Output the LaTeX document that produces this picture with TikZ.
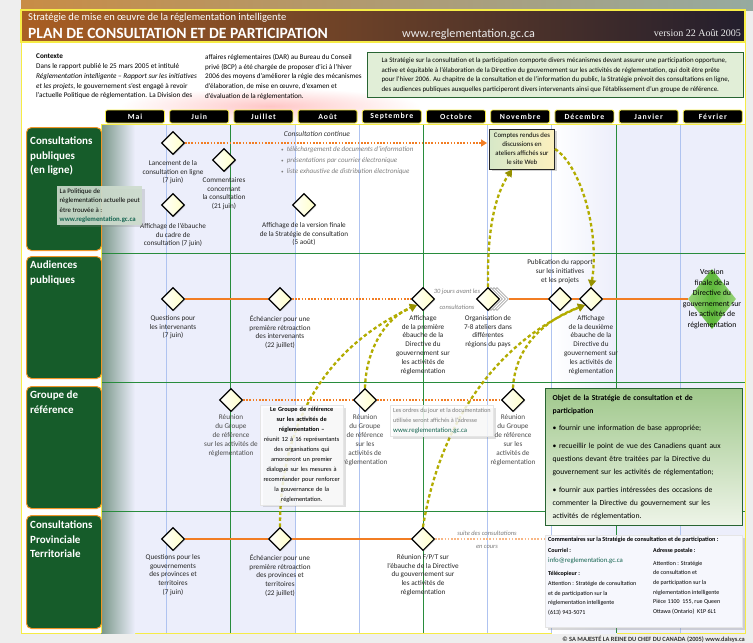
\documentclass[tikz,border=0pt]{standalone}
\usepackage{fontspec}
\setmainfont{Carlito}
\newfontfamily\versionfont{Liberation Serif}
\newfontfamily\tabfont{Carlito}[LetterSpace=12]
\usepackage{tikz}
\usetikzlibrary{positioning, shapes.geometric, shadows, arrows.meta}

\definecolor{pageGrey}{RGB}{238,238,238}
\definecolor{frameYellow}{RGB}{246,236,70}
\definecolor{headLeft}{RGB}{170,95,35}
\definecolor{headMid}{RGB}{70,45,55}
\definecolor{headRight}{RGB}{35,30,45}
\definecolor{stripLeft}{RGB}{200,140,70}
\definecolor{stripRight}{RGB}{150,170,160}
\definecolor{laneGreen}{RGB}{22,92,42}
\definecolor{laneOrange}{RGB}{240,150,40}
\definecolor{laneFade}{RGB}{120,150,135}
\definecolor{gridGreen}{RGB}{40,140,60}
\definecolor{gridBlue}{RGB}{175,195,240}
\definecolor{lavender}{RGB}{236,238,251}
\definecolor{planOrange}{RGB}{242,125,35}
\definecolor{linkOlive}{RGB}{178,172,0}
\definecolor{tipOlive}{RGB}{150,145,0}
\definecolor{linkTeal}{RGB}{20,100,80}
\definecolor{noteGrey}{RGB}{125,125,125}
\definecolor{introGreen}{RGB}{225,238,215}
\definecolor{boxGreen}{RGB}{40,100,50}
\definecolor{objTop}{RGB}{160,200,140}
\definecolor{objBottom}{RGB}{238,244,232}
\definecolor{webLeft}{RGB}{215,232,200}
\definecolor{webRight}{RGB}{252,240,190}
\definecolor{noteFill}{RGB}{205,220,205}
\definecolor{finalIn}{RGB}{95,185,60}
\definecolor{finalOut}{RGB}{150,210,120}
\definecolor{commFill}{RGB}{246,247,253}

\newcommand\fsz[2]{\fontsize{#1}{#2}\selectfont}

\tikzset{
    x=1pt, y=-1pt, % one unit per pixel of the original, y grows downwards
    >={Triangle[length=7pt,width=8pt,color=tipOlive]}, % heads of the olive links
    milestone/.style={diamond, draw=black, line width=1.1pt, left color=white, right color=yellow!22,
        minimum width=23pt, minimum height=23pt, inner sep=0pt,
        drop shadow={opacity=0.3, shadow xshift=1pt, shadow yshift=-1pt}}, % the jalons
    ghost/.style={diamond, draw=black!35, line width=0.8pt, fill=white, minimum width=23pt, minimum height=23pt, inner sep=0pt},
    finalstone/.style={diamond, left color=finalOut, right color=finalOut, middle color=finalIn, minimum width=48pt, minimum height=60pt, inner sep=0pt},
    mlabel/.style={font=\fsz{7.2}{8.8}, align=center, inner sep=0pt, text=black!85},
    glabel/.style={mlabel, font=\fsz{7.2}{9}, text=black!70},
    done/.style={draw=planOrange, line width=1.6pt}, % activite realisee
    pending/.style={draw=planOrange, line width=1.6pt, dash pattern=on 1.6pt off 1.6pt}, % activite continue
    olivelink/.style={->, draw=linkOlive, line width=2.3pt, dash pattern=on 3.5pt off 2.5pt},
    monthtab/.style={fill=black, draw=frameYellow, line width=0.8pt, rounded corners=2pt, text=white,
        font=\tabfont\bfseries\fsz{7.8}{8}, minimum width=59pt, minimum height=13pt, inner sep=0pt},
    lanebox/.style={fill=laneGreen, draw=laneOrange, line width=1pt, rounded corners=5pt, anchor=north west, inner sep=0pt},
    lanetitle/.style={text=white, font=\bfseries\fsz{11}{14.5}, align=left, anchor=north west, inner sep=0pt},
    infobox/.style={fill=white, fill opacity=0.8, text opacity=1, draw=black!10, drop shadow={opacity=0.25}},
    webbox/.style={draw=black!85, line width=1pt, left color=webLeft, right color=webRight, align=center,
        font=\fsz{6.8}{9}, minimum width=65pt, minimum height=40pt, inner sep=1pt, drop shadow={opacity=0.35}},
    aside/.style={font=\itshape\fsz{6.5}{8}, text=noteGrey, inner sep=0pt},
}

\begin{document}
\begin{tikzpicture}
\useasboundingbox (0,0) rectangle (753,643);
% fond, bandeau et cadre
\fill[pageGrey] (0,0) rectangle (753,643);
\shade[left color=stripLeft, right color=stripRight] (21,0) rectangle (753,10);
\fill[white] (21,42) rectangle (745,633);
\shade[inner color=red!22, outer color=white] (270,106) ellipse (150 and 18);
\shade[left color=headLeft, middle color=headMid, right color=headRight] (21,10) rectangle (745,42);
\draw[frameYellow, line width=1.2pt] (21,10) rectangle (745,42);
\draw[frameYellow, line width=1pt] (21,42) -- (21,633) -- (745,633) -- (745,42);

\node[anchor=base west, text=white, font=\fsz{10.5}{12}, inner sep=0pt] (subtitle) at (28,20) {Stratégie de mise en œuvre de la réglementation intelligente};
\node[anchor=base west, text=white, font=\bfseries\fsz{15.6}{18}, inner sep=0pt] (title) at (28,38) {PLAN DE CONSULTATION ET DE PARTICIPATION};
\node[anchor=base west, text=white!85!gray, font=\fsz{12.2}{14}, inner sep=0pt] (site) at (402,37) {www.reglementation.gc.ca};
\node[anchor=base east, text=white!85!gray, font=\versionfont\fsz{10}{12}, inner sep=0pt] (version) at (741,36) {version 22 Août 2005};

% contexte
\node[anchor=north west, align=left, font=\fsz{7.2}{9.7}, inner sep=0pt] (contexte) at (36,54)
    {\textbf{Contexte}\\Dans le rapport publié le 25 mars 2005 et intitulé\\\textit{Réglementation intelligente – Rapport sur les initiatives}\\\textit{et les projets}, le gouvernement s'est engagé à revoir\\l'actuelle Politique de réglementation. La Division des};
\node[anchor=north west, align=left, font=\fsz{7.1}{9.7}, inner sep=0pt] (contexte2) at (205,54)
    {affaires réglementaires (DAR) au Bureau du Conseil\\privé (BCP) a été chargée de proposer d'ici à l'hiver\\2006 des moyens d'améliorer la régie des mécanismes\\d'élaboration, de mise en œuvre, d'examen et\\d'évaluation de la réglementation.};
\node[draw=boxGreen, line width=1pt, fill=introGreen, anchor=north west, align=left, minimum width=376pt, minimum height=45pt,
    inner sep=2pt, font=\fsz{6.9}{9.6}] (intro) at (367,52)
    {La Stratégie sur la consultation et la participation comporte divers mécanismes devant assurer une participation opportune,\\active et équitable à l'élaboration de la Directive du gouvernement sur les activités de réglementation, qui doit être prête\\pour l'hiver 2006. Au chapitre de la consultation et de l'information du public, la Stratégie prévoit des consultations en ligne,\\des audiences publiques auxquelles participeront divers intervenants ainsi que l'établissement d'un groupe de référence.};

% couloirs et grille
\fill[lavender] (101,124) rectangle (296,633);
\shade[left color=white, right color=lavender] (552,124) rectangle (617,633);
\fill[lavender] (617,124) rectangle (745,633);
\foreach \ya/\yb in {124/253, 253/382, 382/511, 511/633}
    \shade[left color=laneFade, right color=lavender] (101,\ya) rectangle (135,\yb);
\foreach \k/\col in {1/gridBlue, 2/gridGreen, 3/gridBlue, 4/gridBlue, 5/gridGreen, 6/gridBlue, 7/gridBlue, 8/gridGreen, 9/gridBlue}
    \draw[\col, line width=0.9pt] ({102.5+64.2*\k},124) -- ({102.5+64.2*\k},633);
\foreach \y in {253,382,511}
    \draw[gridGreen, line width=1pt] (101,\y) -- (745,\y);
\draw[frameYellow, line width=1pt] (101,124) -- (745,124);
\draw[frameYellow, line width=0.8pt] (101,124) -- (101,633);

\node[lanebox, minimum width=75pt, minimum height=123pt] (lane1) at (26,127) {};
\node[lanetitle] (lane1txt) at (30,137) {Consultations\\publiques\\(en ligne)};
\node[lanebox, minimum width=75pt, minimum height=122pt] (lane2) at (26,256) {};
\node[lanetitle] (lane2txt) at (30,261) {Audiences\\publiques};
\node[lanebox, minimum width=75pt, minimum height=122pt] (lane3) at (26,386) {};
\node[lanetitle] (lane3txt) at (30,391) {Groupe de\\référence};
\node[lanebox, minimum width=75pt, minimum height=113pt] (lane4) at (26,515) {};
\node[lanetitle] (lane4txt) at (30,521) {Consultations\\Provinciale\\Territoriale};

\foreach \mois [count=\i from 0] in {Mai,Juin,Juillet,Août,Septembre,Octobre,Novembre,Décembre,Janvier,Février}
    \node[monthtab] (mois\i) at ({135+64.2*\i},116.5) {\mois};

% consultations publiques en ligne
\node[milestone] (lanc) at (173,143) {};
\node[milestone] (comm) at (224,160) {};
\node[milestone] (ebau) at (173,205) {};
\node[milestone] (vfin) at (304,205) {};
\node[mlabel, below=5pt of lanc] (lanclbl) {Lancement de la\\consultation en ligne\\(7 juin)};
\node[mlabel, below=5pt of comm] (commlbl) {Commentaires\\concernant\\la consultation\\(21 juin)};
\node[mlabel, below=6pt of ebau] (ebaulbl) {Affichage de l'ébauche\\du cadre de\\consultation (7 juin)};
\node[mlabel, below=5pt of vfin] (vfinlbl) {Affichage de la version finale\\de la Stratégie de consultation\\(5 août)};
\node[webbox] (cr) at (522,149) {Comptes rendus des\\discussions en\\ateliers affichés sur\\le site Web};
\draw[pending, -{Triangle[length=6pt,width=7pt]}, shorten >=2pt] (lanc) -- (lanc -| cr.west);
\node[font=\itshape\fsz{7.5}{9}, text=black!80, inner sep=0pt] (continue) at (317,134) {Consultation continue};
\node[aside, font=\itshape\fsz{7}{11}, align=left, anchor=north west] (moyens) at (281,146)
    {{\fsz{5}{5}•}\ \ téléchargement de documents d'information\\{\fsz{5}{5}•}\ \ présentations par courrier électronique\\{\fsz{5}{5}•}\ \ liste exhaustive de distribution électronique};

% audiences publiques
\node[milestone] (qint) at (173,299) {};
\node[milestone] (echint) at (280,299) {};
\node[milestone] (aff1) at (423,299) {};
\node[ghost] (org3) at (497,299) {};
\node[ghost] (org2) at (494,299) {};
\node[ghost] (org1) at (491,299) {};
\node[milestone] (org) at (488,299) {};
\node[milestone] (pub) at (560,299) {};
\node[milestone] (aff2) at (591,299) {};
\node[finalstone] (vf) at (712,299) {};
\node[font=\fsz{7.8}{10.5}, align=center, inner sep=0pt] (vflbl) at (712,299) {Version\\finale de la\\Directive du\\gouvernement sur\\les activités de\\réglementation};
\draw[done] (qint) -- (echint);
\draw[pending] (echint) -- (aff1);
\draw[done] (org3) -- (pub);
\draw[done] (pub) -- (aff2);
\draw[done] (aff2) -- (vf);
\node[aside] (trente) at (457,292) {30 jours avant les};
\node[aside] (trente2) at (457,307) {consultations};
\node[mlabel, below=4pt of qint] (qintlbl) {Questions pour\\les intervenants\\(7 juin)};
\node[mlabel, below=4pt of echint] (echintlbl) {Échéancier pour une\\première rétroaction\\des intervenants\\(22 juillet)};
\node[mlabel, below=4pt of aff1] (aff1lbl) {Affichage\\de la première\\ébauche de la\\Directive du\\gouvernement sur\\les activités de\\réglementation};
\node[mlabel, below=4pt of org] (orglbl) {Organisation de\\7-8 ateliers dans\\différentes\\régions du pays};
\node[mlabel, above=3pt of pub] (publbl) {Publication du rapport\\sur les initiatives\\et les projets};
\node[mlabel, below=4pt of aff2] (aff2lbl) {Affichage\\de la deuxième\\ébauche de la\\Directive du\\gouvernement sur\\les activités de\\réglementation};

% groupe de reference
\node[milestone] (reu1) at (231,400) {};
\node[milestone] (reu2) at (365,400) {};
\node[milestone] (reu3) at (513,400) {};
\draw[pending] (reu1) -- (reu2);
\draw[pending] (reu2) -- (reu3);
\node[glabel, below=2pt of reu1] (reu1lbl) {Réunion\\du Groupe\\de référence\\sur les activités de\\réglementation};
\node[glabel, below=2pt of reu2] (reu2lbl) {Réunion\\du Groupe\\de référence\\sur les\\activités de\\réglementation};
\node[glabel, below=2pt of reu3] (reu3lbl) {Réunion\\du Groupe\\de référence\\sur les\\activités de\\réglementation};

% consultations provinciales et territoriales
\node[milestone] (qpt) at (173,539) {};
\node[milestone] (echpt) at (280,539) {};
\node[milestone] (fpt) at (423,539) {};
\coordinate (suite) at (545,539);
\draw[done] (qpt) -- (echpt);
\draw[done] (echpt) -- (fpt);
\draw[pending, draw=planOrange!55] (fpt) -- (suite);
\node[aside] (suite1) at (487,533) {suite des consultations};
\node[aside] (suite2) at (487,547) {en cours};
\node[mlabel, below=3pt of qpt] (qptlbl) {Questions pour les\\gouvernements\\des provinces et\\territoires\\(7 juin)};
\node[mlabel, below=3pt of echpt] (echptlbl) {Échéancier pour une\\première rétroaction\\des provinces et\\territoires\\(22 juillet)};
\node[mlabel, below=3pt of fpt] (fptlbl) {Réunion F/P/T sur\\l'ébauche de la Directive\\du gouvernement sur\\les activités de\\réglementation};

% liens
\draw[olivelink] (echpt.north) .. controls (280,430) and (320,350) .. (aff1.south west);
\draw[olivelink] (reu2.north) .. controls (366,350) and (385,318) .. (aff1.south west);
\draw[olivelink] (fpt.north) .. controls (440,420) and (500,340) .. (aff2.south west);
\draw[olivelink] (reu3.north) .. controls (515,350) and (540,322) .. (aff2.south west);
\draw[olivelink] (org.north) .. controls (487,230) and (495,195) .. ([xshift=-10pt]cr.south);
\draw[olivelink] (cr.east) .. controls (580,165) and (600,230) .. (aff2.north);

% encadres
\node[fill=noteFill, fill opacity=0.9, text opacity=1, drop shadow={opacity=0.25}, anchor=north west, align=left,
    inner sep=2.5pt, font=\fsz{6.8}{9.3}] (politique) at (57,186)
    {La Politique de\\réglementation actuelle peut\\être trouvée à :\\{\bfseries\color{linkTeal}www.reglementation.gc.ca}};
\node[infobox, anchor=north west, text width=79pt, align=center, inner sep=2pt, font=\fsz{6.3}{10}] (grpinfo) at (260,405)
    {\textbf{Le Groupe de référence}\\\textbf{sur les activités de}\\\textbf{réglementation –}\\réunit 12 à 16 représentants\\des organisations qui\\amorceront un premier\\dialogue sur les mesures à\\recommander pour renforcer\\la gouvernance de la\\réglementation.};
\node[infobox, anchor=north west, align=left, text=noteGrey, inner sep=3pt, font=\fsz{6.2}{10}] (ordres) at (390,405)
    {Les ordres du jour et la documentation\\utilisée seront affichés à l'adresse\\{\fsz{6.8}{10}\color{linkTeal}www.reglementation.gc.ca}};
\node[draw=boxGreen, line width=1.3pt, top color=objTop, bottom color=objBottom, anchor=north west, text width=183pt,
    align=left, inner xsep=7pt, inner ysep=6pt, font=\fsz{7.7}{13}] (objet) at (545,388)
    {{\bfseries Objet de la Stratégie de consultation et de}\\{\bfseries participation}\\[4pt]
     • fournir une information de base appropriée;\\[5pt]
     • recueillir le point de vue des Canadiens quant aux\\questions devant être traitées par la Directive du\\gouvernement sur les activités de réglementation;\\[5pt]
     • fournir aux parties intéressées des occasions de\\commenter la Directive du gouvernement sur les\\activités de réglementation.};
\node[fill=commFill, draw=black!10, drop shadow={opacity=0.3}, anchor=north west, minimum width=197pt, minimum height=92pt] (commbox) at (545,535) {};
\node[anchor=north west, font=\bfseries\fsz{6.2}{9}, inner sep=0pt] (commtitle) at (548,537) {Commentaires sur la Stratégie de consultation et de participation :};
\node[anchor=north west, align=left, font=\fsz{6}{9.7}, inner sep=0pt] (commleft) at (548,548)
    {\textbf{Courriel :}\\{\fsz{6.8}{9.7}\color{linkTeal}info@reglementation.gc.ca}\\[4pt]\textbf{Télécopieur :}\\Attention : Stratégie de consultation\\et de participation sur la\\réglementation intelligente\\(613) 943-5071};
\node[anchor=north west, align=left, font=\fsz{6}{9.7}, inner sep=0pt] (commright) at (653,548)
    {\textbf{Adresse postale :}\\[3pt]Attention : Stratégie\\de consultation et\\de participation sur la\\réglementation intelligente\\Pièce 1100 \ 155, rue Queen\\Ottawa (Ontario) \ K1P 6L1};
\node[anchor=base east, font=\bfseries\fsz{6.4}{7}, text=black!80, inner sep=0pt] (copyright) at (745,641) {© SA MAJESTÉ LA REINE DU CHEF DU CANADA (2005) www.dalsys.ca};
\end{tikzpicture}
\end{document}
